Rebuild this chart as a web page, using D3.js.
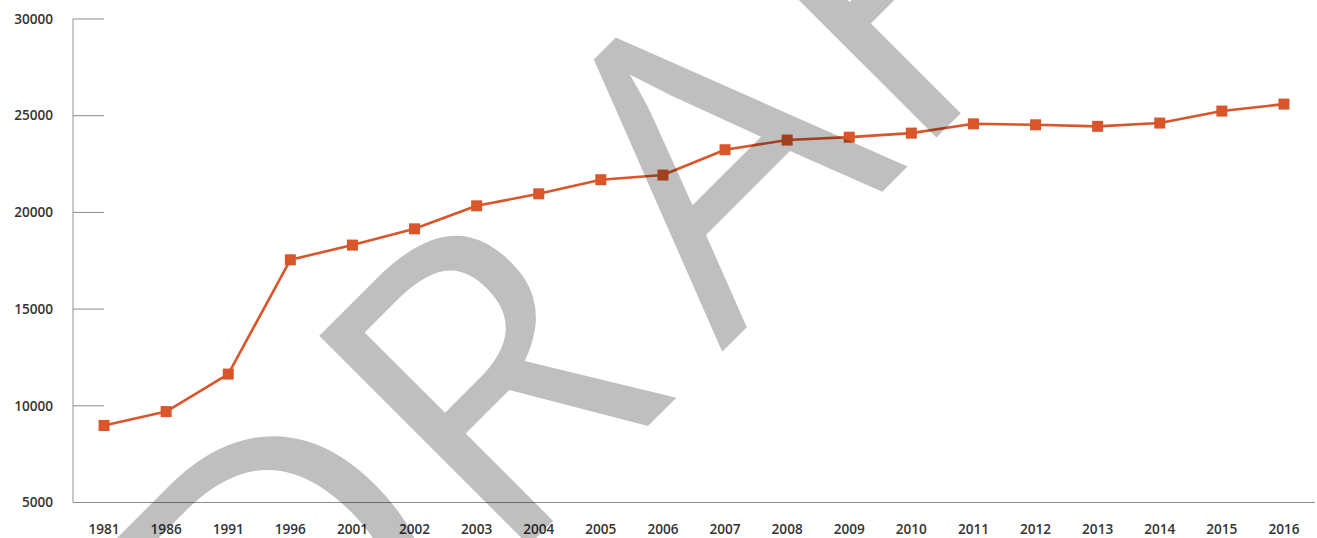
<!DOCTYPE html>
<html>
<head>
<meta charset="utf-8">
<script src="https://cdn.jsdelivr.net/npm/d3@7"></script>
<style>
  html, body { margin: 0; padding: 0; background: #fff; }
  svg { display: block; }
  .tick-label { font-family: "Open Sans", sans-serif; font-weight: 600; font-size: 13.6px; fill: #333; }
</style>
</head>
<body>
<script>
// ** Data
const years = ["1981", "1986", "1991", "1996", "2001", "2002", "2003", "2004", "2005", "2006",
  "2007", "2008", "2009", "2010", "2011", "2012", "2013", "2014", "2015", "2016"];
const values = [8980, 9700, 11640, 17550, 18310, 19150, 20340, 20960, 21690, 21930,
  23240, 23740, 23890, 24100, 24580, 24530, 24450, 24620, 25240, 25600];
const yTicks = [5000, 10000, 15000, 20000, 25000, 30000];
const watermark = ["D", "R", "A", "F", "T"];

// ** Layout
const width = 1317;
const height = 538;
const plotLeft = 73;
const plotRight = 1315;
const plotTop = 19;
const plotBottom = 502.5;

const svg = d3.select("body")
  .append("svg")
  .attr("width", width)
  .attr("height", height);

const x = d3.scaleBand().domain(years).range([plotLeft, plotRight]).padding(0);
const y = d3.scaleLinear().domain([5000, 30000]).range([plotBottom, plotTop]);
const cx = d => x(d) + x.bandwidth() / 2;

// y axis: short ticks pointing into the plot, labels on the left
const yAxis = svg.append("g").attr("class", "y-axis");
yAxis.append("line")
  .attr("x1", plotLeft).attr("x2", plotLeft)
  .attr("y1", y(30000)).attr("y2", plotBottom)
  .attr("stroke", "#a6a6a6").attr("stroke-width", 1.2);
yAxis.selectAll("line.tick")
  .data(yTicks.filter(t => t !== 5000))
  .join("line")
  .attr("class", "tick")
  .attr("x1", plotLeft).attr("x2", plotLeft + 31)
  .attr("y1", d => y(d)).attr("y2", d => y(d))
  .attr("stroke", "#8c8c8c").attr("stroke-width", 1);
yAxis.selectAll("text")
  .data(yTicks)
  .join("text")
  .attr("class", "tick-label")
  .attr("x", 53)
  .attr("y", d => y(d))
  .attr("dy", "0.35em")
  .attr("text-anchor", "end")
  .text(d => d);

// baseline along the bottom
svg.append("line")
  .attr("x1", plotLeft).attr("x2", plotRight)
  .attr("y1", plotBottom).attr("y2", plotBottom)
  .attr("stroke", "#8c8c8c").attr("stroke-width", 1.2);

// x labels
svg.append("g")
  .selectAll("text")
  .data(years)
  .join("text")
  .attr("class", "tick-label")
  .attr("x", d => cx(d))
  .attr("y", 529)
  .attr("dy", "0.35em")
  .attr("text-anchor", "middle")
  .text(d => d);

// ** Series
const points = years.map((yr, i) => ({ year: yr, value: values[i] }));
const line = d3.line().x(d => cx(d.year)).y(d => y(d.value));

svg.append("path")
  .datum(points)
  .attr("d", line)
  .attr("fill", "none")
  .attr("stroke", "#d9552a")
  .attr("stroke-width", 2.6)
  .attr("stroke-linejoin", "round");

const size = 11;
svg.append("g")
  .selectAll("rect")
  .data(points)
  .join("rect")
  .attr("x", d => cx(d.year) - size / 2)
  .attr("y", d => y(d.value) - size / 2)
  .attr("width", size)
  .attr("height", size)
  .attr("fill", "#d9552a");

// ** Watermark, drawn on top and darkening what sits under it
// the original face is wider after the R, so open a gap before the A
const wm = svg.append("text")
  .attr("transform", "translate(754,320) rotate(-45)")
  .attr("text-anchor", "middle")
  .style("font-family", "'Open Sans', sans-serif")
  .style("font-size", "415px")
  .attr("fill", "#000")
  .attr("fill-opacity", 0.25);
wm.selectAll("tspan")
  .data(watermark)
  .join("tspan")
  .attr("dx", d => (d === "A" ? 58 : 0))
  .text(d => d);
</script>
</body>
</html>
